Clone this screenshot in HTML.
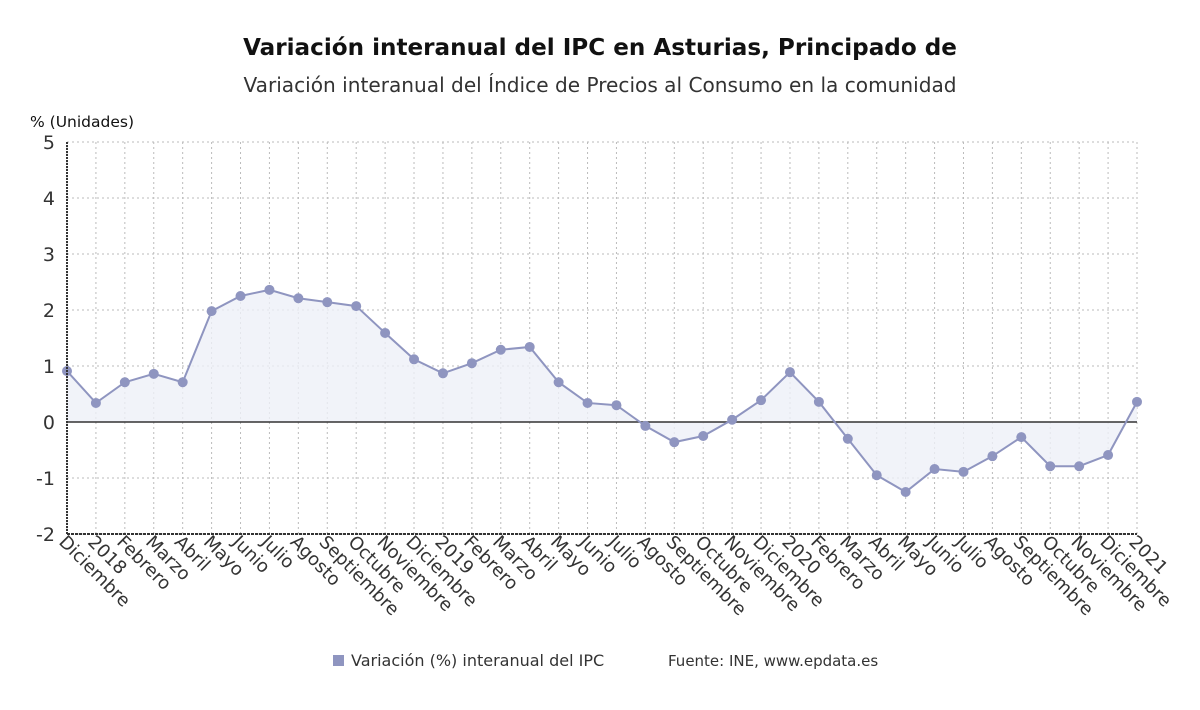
<!DOCTYPE html>
<html><head><meta charset="utf-8"><style>
body{margin:0;background:#fff;font-family:"Liberation Sans","DejaVu Sans",sans-serif;}
</style></head><body>
<svg id="chart" width="1200" height="705" xmlns="http://www.w3.org/2000/svg" font-family="DejaVu Sans, Liberation Sans, sans-serif">
<text x="600" y="55" text-anchor="middle" font-size="23.1" font-weight="bold" fill="#111">Variación interanual del IPC en Asturias, Principado de</text>
<text x="600" y="92" text-anchor="middle" font-size="20.1" fill="#333">Variación interanual del Índice de Precios al Consumo en la comunidad</text>
<text x="30" y="127" font-size="15.5" fill="#111">% (Unidades)</text>
<g id="grid"></g><g id="series"></g><g id="axes"></g>
<rect x="333" y="655" width="11" height="11" fill="#8f95c0"/>
<text x="351" y="666" font-size="16" fill="#333">Variación (%) interanual del IPC</text>
<text x="668" y="666" font-size="15" fill="#333">Fuente: INE, www.epdata.es</text>
</svg>
<script>
const categories=["Diciembre","2018","Febrero","Marzo","Abril","Mayo","Junio","Julio","Agosto","Septiembre","Octubre","Noviembre","Diciembre","2019","Febrero","Marzo","Abril","Mayo","Junio","Julio","Agosto","Septiembre","Octubre","Noviembre","Diciembre","2020","Febrero","Marzo","Abril","Mayo","Junio","Julio","Agosto","Septiembre","Octubre","Noviembre","Diciembre","2021"];
const values=[0.91,0.34,0.71,0.86,0.71,1.98,2.25,2.36,2.21,2.14,2.07,1.59,1.12,0.87,1.05,1.29,1.34,0.71,0.34,0.30,-0.07,-0.36,-0.25,0.04,0.39,0.89,0.36,-0.30,-0.95,-1.25,-0.84,-0.89,-0.61,-0.27,-0.79,-0.79,-0.59,0.36];
const yTicks=[-2,-1,0,1,2,3,4,5];
const NS="http://www.w3.org/2000/svg";
const x0=67,x1=1137,yTop=142,yBot=534,yMin=-2,yMax=5;
const xs=i=>x0+(x1-x0)*i/(categories.length-1);
const ys=v=>yBot-(v-yMin)/(yMax-yMin)*(yBot-yTop);
function mk(t,a,p){const e=document.createElementNS(NS,t);for(const k in a)e.setAttribute(k,a[k]);p.appendChild(e);return e;}
const grid=document.getElementById('grid'),ser=document.getElementById('series'),ax=document.getElementById('axes');
yTicks.forEach(v=>{
 const l=mk('line',{x1:x0,x2:x1,y1:ys(v),y2:ys(v),stroke:'#bbb','stroke-dasharray':'2,3'},grid);
 
 
 const t=mk('text',{x:55,y:ys(v)+7,'text-anchor':'end','font-size':19,fill:'#333'},ax);
 t.textContent=v;
 
 
});
categories.forEach((c,i)=>{
 const l=mk('line',{x1:xs(i),x2:xs(i),y1:yTop,y2:yBot,stroke:'#bbb','stroke-dasharray':'2,3'},grid);
 
 
 const t=mk('text',{x:0,y:0,'font-size':18,fill:'#333',transform:`translate(${xs(i)-9},${yBot+9}) rotate(45)`},ax);
 t.textContent=c;
 
 
});
let d=`M${xs(0)},${ys(0)}`;values.forEach((v,i)=>d+=` L${xs(i)},${ys(v)}`);d+=` L${xs(values.length-1)},${ys(0)} Z`;
const area=mk('path',{d:d,fill:'#eef0f8',opacity:0.8},ser);


const zero=mk('line',{x1:x0,x2:x1,y1:ys(0),y2:ys(0),stroke:'#333','stroke-width':1.5},ser);


const line=mk('polyline',{points:values.map((v,i)=>xs(i)+','+ys(v)).join(' '),fill:'none',stroke:'#8f95c0','stroke-width':2},ser);


values.forEach((v,i)=>{
 const p=mk('circle',{cx:xs(i),cy:ys(v),r:5,fill:'#8f95c0'},ser);
 
 
});
const ya=mk('line',{x1:x0,x2:x0,y1:yTop,y2:yBot,stroke:'#333','stroke-width':2,'stroke-dasharray':'2,1'},ax);


const xa=mk('line',{x1:x0,x2:x1,y1:yBot,y2:yBot,stroke:'#333','stroke-width':2,'stroke-dasharray':'3,1'},ax);


</script>
</body></html>
